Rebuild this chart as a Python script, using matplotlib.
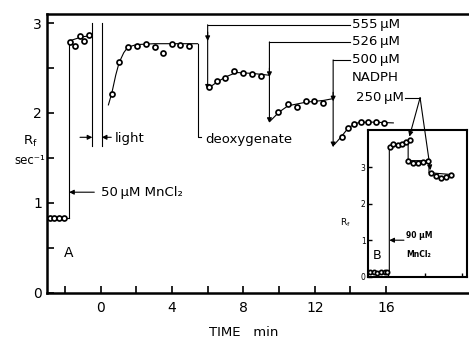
import numpy as np
import matplotlib
matplotlib.use("Agg")
import matplotlib.pyplot as plt

# panel A: baseline, then MnCl2, light, deoxygenate and NADPH steps
base_t = [-2.85, -2.6, -2.35, -2.05]
base_r = [0.83, 0.83, 0.83, 0.83]

mn_t = [-1.71, -1.43, -1.15, -0.91, -0.63]
mn_r = [2.79, 2.75, 2.86, 2.80, 2.87]
mn_fit_t = [-1.76, -1.3, -0.9, -0.46]
mn_fit_r = [2.80, 2.83, 2.85, 2.86]

light_t = [0.63, 1.04, 1.52, 2.03, 2.53, 3.05, 3.52, 3.99, 4.45, 4.97]
light_r = [2.21, 2.57, 2.73, 2.75, 2.77, 2.73, 2.67, 2.77, 2.76, 2.75]
light_fit_t = [0.44, 0.63, 0.85, 1.04, 1.3, 1.52, 2.0, 3.0, 4.0, 5.44]
light_fit_r = [2.09, 2.22, 2.42, 2.56, 2.67, 2.73, 2.76, 2.77, 2.77, 2.77]

n555_t = [6.08, 6.51, 6.97, 7.5, 8.0, 8.47, 9.0]
n555_r = [2.29, 2.35, 2.39, 2.47, 2.45, 2.43, 2.41]
n555_fit_t = [6.0, 6.5, 7.0, 7.6, 8.5, 9.44]
n555_fit_r = [2.27, 2.34, 2.40, 2.45, 2.44, 2.42]

n526_t = [9.96, 10.5, 10.99, 11.5, 11.98, 12.48]
n526_r = [2.01, 2.10, 2.07, 2.13, 2.13, 2.11]
n526_fit_t = [9.5, 10.0, 10.5, 11.5, 12.5, 13.03]
n526_fit_r = [1.91, 2.01, 2.08, 2.12, 2.14, 2.16]

n500_t = [13.5, 13.85, 14.2, 14.6, 15.0, 15.45, 15.9]
n500_r = [1.73, 1.83, 1.88, 1.90, 1.90, 1.90, 1.89]
n500_fit_t = [13.1, 13.5, 13.9, 14.4, 15.0, 16.4]
n500_fit_r = [1.65, 1.74, 1.84, 1.89, 1.90, 1.89]

# panel B (inset)
b_base_t = [-1.0, -0.8, -0.6, -0.4, -0.2, -0.05]
b_base_r = [0.12, 0.14, 0.11, 0.14, 0.12, 0.13]
b_p1_t = [0.08, 0.26, 0.53, 0.77, 0.99, 1.17]
b_p1_r = [3.56, 3.64, 3.61, 3.64, 3.70, 3.74]
b_p2_t = [1.08, 1.35, 1.62, 1.9, 2.17]
b_p2_r = [3.18, 3.12, 3.12, 3.15, 3.18]
b_p3_t = [2.35, 2.6, 2.9, 3.15, 3.4]
b_p3_r = [2.85, 2.77, 2.71, 2.74, 2.78]

plt.rcParams['font.family'] = ['DejaVu Sans']

fig = plt.figure(figsize=(4.69, 3.39), dpi=100)
ax = fig.add_axes([0.1002, 0.1357, 0.8998, 0.8230])

mk = dict(marker='o', mfc='white', mec='black', ms=3.6, mew=1.25, ls='none', zorder=4)
ln = dict(color='black', lw=0.8, zorder=3)
arr = dict(arrowstyle='-|>', color='black', lw=0.8, mutation_scale=7, shrinkA=0, shrinkB=0)

# data
ax.plot([-2.95, -1.76], [0.83, 0.83], **ln)
ax.plot(base_t, base_r, **mk)
ax.plot([-1.76, -1.76], [0.83, 2.80], **ln)
ax.plot(mn_fit_t, mn_fit_r, **ln)
ax.plot(mn_t, mn_r, **mk)
ax.plot(light_fit_t, light_fit_r, **ln)
ax.plot(light_t, light_r, **mk)
ax.plot(n555_fit_t, n555_fit_r, **ln)
ax.plot(n555_t, n555_r, **mk)
ax.plot(n526_fit_t, n526_fit_r, **ln)
ax.plot(n526_t, n526_r, **mk)
ax.plot(n500_fit_t, n500_fit_r, **ln)
ax.plot(n500_t, n500_r, **mk)

# MnCl2 addition
ax.annotate('', xy=(-1.76, 1.12), xytext=(-0.35, 1.12), arrowprops=arr)
ax.text(0.05, 1.12, '50\u2009\u00b5M MnCl\u2082', fontsize=9.5, va='center')

# light off bracket
ax.plot([-0.46, -0.46], [3.0, 1.63], **ln)
ax.plot([0.07, 0.07], [3.0, 1.63], **ln)
ax.annotate('', xy=(-0.46, 1.73), xytext=(-1.15, 1.73), arrowprops=arr)
ax.annotate('', xy=(0.07, 1.73), xytext=(0.6, 1.73), arrowprops=arr)
ax.text(0.82, 1.72, 'light', fontsize=9.5, va='center')

# deoxygenate
ax.plot([5.45, 5.45, 5.63], [2.77, 1.73, 1.73], **ln)
ax.text(5.85, 1.70, 'deoxygenate', fontsize=9.5, va='center')

# NADPH additions
ax.plot([13.98, 6.0], [2.98, 2.98], **ln)
ax.annotate('', xy=(6.0, 2.26), xytext=(6.0, 2.98), arrowprops=arr)
ax.annotate('', xy=(6.0, 2.80), xytext=(6.0, 2.90), arrowprops=arr)
ax.text(14.07, 2.98, '555\u2009\u00b5M', fontsize=9.5, va='center')

ax.plot([13.98, 9.46], [2.79, 2.79], **ln)
ax.annotate('', xy=(9.46, 1.89), xytext=(9.46, 2.79), arrowprops=arr)
ax.annotate('', xy=(9.46, 2.40), xytext=(9.46, 2.50), arrowprops=arr)
ax.text(14.07, 2.79, '526\u2009\u00b5M', fontsize=9.5, va='center')

ax.plot([13.98, 13.03], [2.59, 2.59], **ln)
ax.annotate('', xy=(13.03, 1.62), xytext=(13.03, 2.59), arrowprops=arr)
ax.annotate('', xy=(13.03, 2.13), xytext=(13.03, 2.23), arrowprops=arr)
ax.text(14.07, 2.59, '500\u2009\u00b5M', fontsize=9.5, va='center')
ax.text(14.07, 2.39, 'NADPH', fontsize=9.5, va='center')
ax.text(14.32, 2.17, '250\u2009\u00b5M', fontsize=9.5, va='center')
ax.plot([17.06, 17.9], [2.17, 2.17], **ln)

ax.text(-1.8, 0.44, 'A', fontsize=10, ha='center', va='center')

ax.set_xlim(-3.0, 20.64)
ax.set_ylim(0, 3.1)
ax.set_xticks([0, 4, 8, 12, 16])
ax.set_xticks([-2, 2, 6, 10, 14], minor=True)
ax.set_yticks([0, 1, 2, 3])
ax.set_yticks([0.5, 1.5, 2.5], minor=True)
ax.tick_params(which='both', direction='in', length=5, width=1.2, labelsize=10)
ax.tick_params(axis='x', pad=6)
ax.spines['right'].set_visible(False)
for s in ['left', 'bottom', 'top']:
    ax.spines[s].set_linewidth(1.8)

fig.text(30 / 469, 1 - 141 / 339, 'R$_\\mathregular{f}$', fontsize=9.5, ha='center', va='center')
fig.text(30 / 469, 1 - 161 / 339, 'sec\u207b\u00b9', fontsize=8.5, ha='center', va='center')
fig.text(244 / 469, 1 - 332 / 339, 'TIME   min', fontsize=9.5, ha='center', va='center')

# inset B
axin = fig.add_axes([0.7853, 0.1838, 0.2104, 0.4327])
axin.patch.set_facecolor('none')
axin.plot([-1.05, 0.05], [0.12, 0.12], **ln)
axin.plot(b_base_t, b_base_r, **dict(mk, ms=3))
axin.plot([0.05, 0.05, 1.08, 1.08, 2.22, 2.22, 3.45],
          [0.12, 3.56, 3.72, 3.18, 3.18, 2.85, 2.80], **ln)
axin.plot(b_p1_t, b_p1_r, **dict(mk, ms=3.3))
axin.plot(b_p2_t, b_p2_r, **dict(mk, ms=3.3))
axin.plot(b_p3_t, b_p3_r, **dict(mk, ms=3.3))

axin.annotate('', xy=(1.15, 3.84), xycoords='data', xytext=(17.9, 2.17),
              textcoords=ax.transData, arrowprops=arr)
axin.annotate('', xy=(2.3, 2.92), xycoords='data', xytext=(17.9, 2.17),
              textcoords=ax.transData, arrowprops=arr)

axin.annotate('', xy=(0.05, 1.0), xytext=(0.85, 1.0), arrowprops=arr)
axin.text(0.95, 1.12, '90 \u00b5M', fontsize=5.5, va='center', fontweight='bold')
axin.text(0.95, 0.62, 'MnCl\u2082', fontsize=5.5, va='center', fontweight='bold')
axin.text(-0.62, 0.58, 'B', fontsize=9, ha='center', va='center')
axin.text(-0.236, 0.366, 'R$_\\mathregular{f}$', fontsize=6.5, ha='center', va='center',
          transform=axin.transAxes)

axin.set_xlim(-1.1, 4.3)
axin.set_ylim(0, 4.02)
axin.set_xticks([0, 2, 4])
axin.set_xticklabels([])
axin.set_yticks([0, 1, 2, 3])
axin.tick_params(which='both', direction='in', length=3, width=1.0, labelsize=5.5, pad=2)
for s in axin.spines.values():
    s.set_linewidth(1.5)

fig.savefig('out.png', dpi=100)
